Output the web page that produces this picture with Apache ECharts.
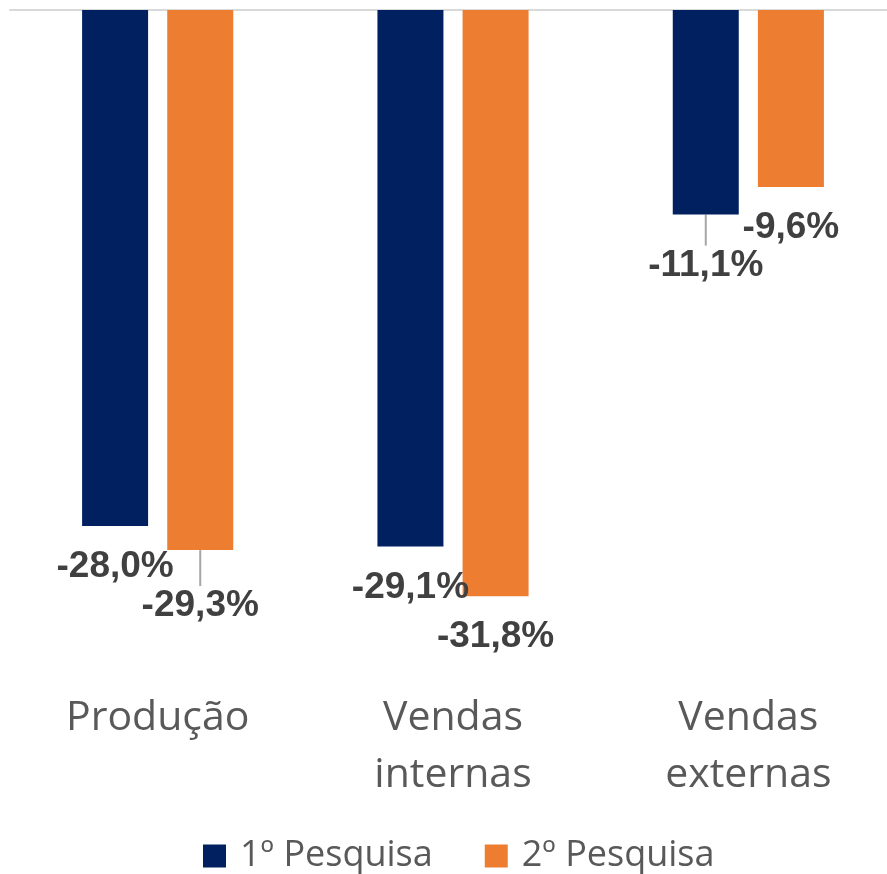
<!DOCTYPE html>
<html>
<head>
<meta charset="utf-8">
<script src="https://cdn.jsdelivr.net/npm/echarts@6/dist/echarts.min.js"></script>
<style>
  html, body { margin: 0; padding: 0; background: #fff; }
  #chart { width: 887px; height: 874px; }
</style>
</head>
<body>
<div id="chart"></div>
<script>
// dados do gráfico
const categorias = ['Produção', 'Vendas\ninternas', 'Vendas\nexternas'];
const nomesSeries = ['1º Pesquisa', '2º Pesquisa'];
const pesquisa1 = [-28.0, -29.1, -11.1];
const pesquisa2 = [-29.3, -31.8, -9.6];

// deslocamento extra dos rótulos (só para imitar a posição do original)
const ajuste1 = [3, 0, 10];
const ajuste2 = [15, 0, 1];
const linhaGuia1 = [false, false, true];
const linhaGuia2 = [true, false, false];

const fonteRotulo = '"Liberation Sans", Arial, sans-serif';
const fonteTexto = '"Open Sans", "Noto Sans", sans-serif';

function fmt(v) {
  return v.toFixed(1).replace('.', ',') + '%';
}

function montaDados(valores, ajustes, guias) {
  return valores.map((v, i) => ({
    value: v,
    label: { offset: [0, guias[i] ? 0 : ajustes[i]] },
    labelLine: { show: guias[i] }
  }));
}

const chart = echarts.init(document.getElementById('chart'));

const option = {
  animation: false,
  legend: {
    data: nomesSeries,
    left: 203,
    top: 838,
    padding: 0,
    icon: 'rect',
    itemWidth: 23,
    itemHeight: 23,
    itemGap: 52,
    textStyle: {
      fontFamily: fonteTexto,
      fontSize: 36,
      color: '#595959',
      padding: [0, 0, 0, 9]
    }
  },
  grid: {
    left: 10,
    top: 10,
    right: -9,
    height: 682,
    outerBoundsMode: 'none'
  },
  xAxis: [
    {
      type: 'category',
      data: categorias,
      position: 'top',
      axisLine: { show: true, lineStyle: { color: '#d9d9d9', width: 2 } },
      axisTick: { show: false },
      axisLabel: { show: false }
    },
    {
      type: 'category',
      data: categorias,
      position: 'bottom',
      axisLine: { show: false },
      axisTick: { show: false },
      axisLabel: {
        margin: -2,
        fontFamily: fonteTexto,
        fontSize: 41,
        lineHeight: 57,
        color: '#595959'
      }
    }
  ],
  yAxis: {
    type: 'value',
    min: -37,
    max: 0,
    show: false,
    splitLine: { show: false }
  },
  series: [
    {
      name: nomesSeries[0],
      type: 'bar',
      xAxisIndex: 0,
      barWidth: 66,
      barGap: '29%',
      itemStyle: { color: '#002060' },
      data: montaDados(pesquisa1, ajuste1, linhaGuia1),
      label: {
        show: true,
        position: 'bottom',
        distance: 21,
        formatter: p => fmt(p.value),
        fontFamily: fonteRotulo,
        fontWeight: 'bold',
        fontSize: 37,
        lineHeight: 40,
        color: '#404040'
      },
      labelLine: { show: false, lineStyle: { color: '#a6a6a6', width: 2 } },
      labelLayout: function (p) {
        if (p.dataIndex === 2) return { dy: 10 };
        return {};
      }
    },
    {
      name: nomesSeries[1],
      type: 'bar',
      xAxisIndex: 0,
      barWidth: 66,
      barGap: '29%',
      itemStyle: { color: '#ED7D31' },
      data: montaDados(pesquisa2, ajuste2, linhaGuia2),
      label: {
        show: true,
        position: 'bottom',
        distance: 21,
        formatter: p => fmt(p.value),
        fontFamily: fonteRotulo,
        fontWeight: 'bold',
        fontSize: 37,
        lineHeight: 40,
        color: '#404040'
      },
      labelLine: { show: false, lineStyle: { color: '#a6a6a6', width: 2 } },
      labelLayout: function (p) {
        if (p.dataIndex === 0) return { dy: 15 };
        return {};
      }
    }
  ]
};

option && chart.setOption(option);
</script>
</body>
</html>
